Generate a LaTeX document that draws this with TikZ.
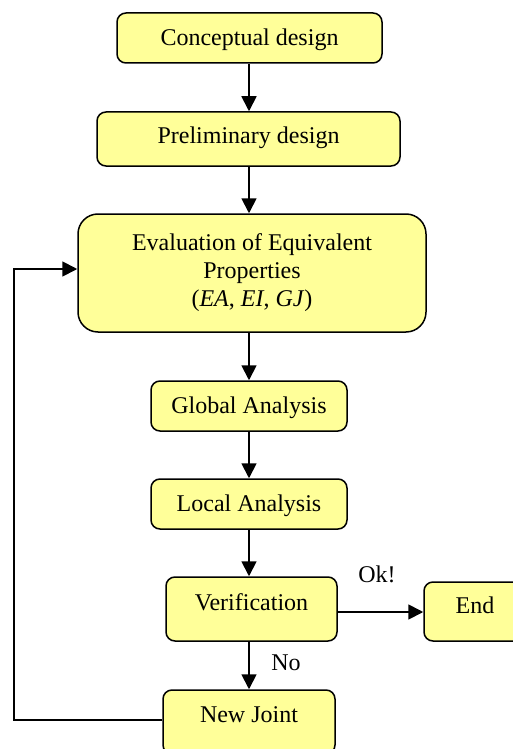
\documentclass[tikz,border=0pt]{standalone}
\usepackage{fontspec}
\setmainfont{Liberation Serif}
\usetikzlibrary{arrows.meta}
\definecolor{boxfill}{RGB}{255,255,153}
\tikzset{
  box/.style={draw=black, line width=1.5pt, fill=boxfill, rounded corners=9pt, inner sep=2pt,
    font=\fontsize{24}{28}\selectfont, align=center},
  onel/.style={text height=16pt, text depth=#1},
  arr/.style={line width=1.8pt, -{Triangle[length=15pt,width=15pt]}},
  lbl/.style={font=\fontsize{24}{28}\selectfont, inner sep=0pt}
}
\begin{document}
\begin{tikzpicture}[x=1pt,y=1pt]
\useasboundingbox (0,0) rectangle (513,-749);
\node[box, onel=0pt, minimum width=265pt, minimum height=50pt] (c1) at (249.5,-38) {Conceptual design};
\node[box, onel=8pt, minimum width=303pt, minimum height=54pt] (c2) at (248.5,-139) {Preliminary design};
\node[box, rounded corners=20pt, minimum width=348pt, minimum height=118pt] (ev) at (252,-273) {Evaluation of Equivalent\\Properties\\(\textit{EA}, \textit{EI}, \textit{GJ})};
\node[box, onel=2pt, minimum width=196pt, minimum height=50pt] (ga) at (249,-406) {Global Analysis};
\node[box, onel=2pt, minimum width=196pt, minimum height=50pt] (la) at (249,-504) {Local Analysis};
\node[box, onel=14pt, minimum width=171pt, minimum height=64pt] (ver) at (251.5,-609) {Verification};
\node[box, onel=12pt, minimum width=102pt, minimum height=59pt] (end) at (475,-611.5) {End};
\node[box, onel=16pt, minimum width=172pt, minimum height=64pt] (nj) at (249,-722) {New Joint};
\coordinate (fbx) at (14,0);
\coordinate (colx) at (249,0);
\draw[arr] (colx |- c1.south) -- (colx |- c2.north);
\draw[arr] (colx |- c2.south) -- (colx |- ev.north);
\draw[arr] (colx |- ev.south) -- (colx |- ga.north);
\draw[arr] (colx |- ga.south) -- (colx |- la.north);
\draw[arr] (colx |- la.south) -- (colx |- ver.north);
\draw[arr] (colx |- ver.south) -- (colx |- nj.north);
\draw[arr] ([yshift=-3pt]ver.east) -- ([yshift=-3pt]ver.east -| end.west);
\draw[arr] ([yshift=2pt]nj.west) -- ([yshift=2pt]nj.west -| fbx) -- ([yshift=4pt]ev.west -| fbx) -- ([yshift=4pt]ev.west);
\node[lbl] (ok) at (377,-574) {Ok!};
\node[lbl] (no) at (286,-663) {No};
\end{tikzpicture}
\end{document}
